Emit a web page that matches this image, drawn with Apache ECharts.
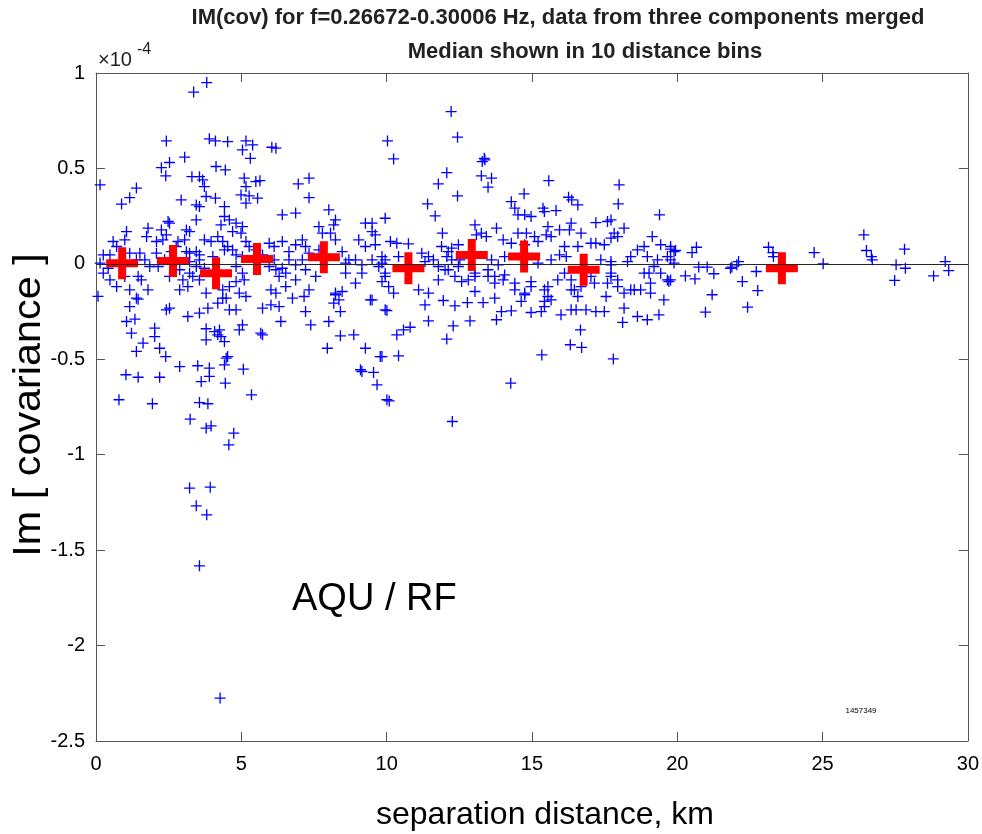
<!DOCTYPE html>
<html>
<head>
<meta charset="utf-8">
<title>IM(cov) vs separation distance</title>
<script src="https://cdn.jsdelivr.net/npm/echarts@6/dist/echarts.min.js"></script>
<style>
  html, body { margin: 0; padding: 0; background: #fff; }
  #chart { width: 982px; height: 834px; }
</style>
</head>
<body>
<div id="chart"></div>
<script>
// station pairs: [separation distance km, Im(cov) in 1e-4]
const pairPoints = [
  [3.81,0.95],[3.36,0.90],[2.42,0.644],[3.90,0.655],[4.11,0.644],[4.53,0.64],[5.16,0.644],[5.39,0.623],
  [5.04,0.597],[6.05,0.611],[6.19,0.606],[5.31,0.553],[3.05,0.559],[2.53,0.531],[2.25,0.504],[2.40,0.461],
  [4.13,0.51],[4.45,0.492],[3.30,0.457],[3.56,0.457],[3.67,0.44],[5.10,0.449],[5.16,0.405],[5.50,0.431],
  [5.64,0.436],[0.14,0.414],[1.39,0.397],[1.16,0.347],[0.88,0.313],[3.73,0.405],[3.79,0.353],[6.96,0.419],
  [7.33,0.449],[7.33,0.347],[2.93,0.335],[3.45,0.309],[3.56,0.30],[4.11,0.344],[4.42,0.30],[4.99,0.361],
  [5.27,0.356],[5.56,0.344],[5.16,0.318],[8.01,0.283],[4.42,0.248],[4.30,0.204],[4.59,0.23],[6.41,0.257],
  [6.87,0.266],[2.48,0.222],[2.53,0.213],[2.25,0.178],[3.45,0.23],[3.22,0.169],[3.11,0.178],[4.82,0.213],
  [5.04,0.195],[4.99,0.161],[4.70,0.169],[8.24,0.23],[8.18,0.204],[8.07,0.161],[9.27,0.213],[9.50,0.213],
  [9.50,0.169],[9.95,0.239],[1.05,0.169],[1.79,0.187],[1.74,0.143],[0.59,0.117],[0.99,0.126],[0.25,0.047],
  [0.48,0.047],[0.14,0.004],[2.08,0.117],[2.30,0.126],[2.42,0.152],[2.82,0.117],[3.05,0.126],[3.11,0.064],
  [3.22,0.056],[3.45,0.064],[3.73,0.126],[3.96,0.117],[4.19,0.143],[4.36,0.117],[4.53,0.091],[4.42,0.073],
  [4.70,0.073],[4.82,0.047],[5.16,0.117],[5.27,0.091],[5.50,0.073],[5.96,0.108],[6.13,0.091],[5.73,0.047],
  [6.41,0.117],[6.87,0.10],[7.10,0.126],[7.21,0.091],[7.33,0.056],[7.67,0.195],[7.79,0.161],[8.47,0.064],
  [8.70,0.021],[9.27,0.091],[9.61,0.10],[9.84,0.038],[1.51,0.056],[1.68,0.021],[1.85,-0.014],[1.45,-0.066],
  [1.56,-0.084],[0.25,-0.049],[0.48,-0.084],[0.71,-0.119],[0.07,-0.17],[1.16,-0.136],[1.39,-0.18],[1.79,-0.136],
  [1.16,-0.224],[2.53,-0.066],[2.99,-0.084],[3.22,-0.049],[3.16,-0.119],[2.88,-0.136],[3.56,-0.084],[3.79,-0.153],
  [4.36,-0.136],[4.59,-0.119],[4.82,-0.093],[5.10,-0.084],[4.93,-0.153],[4.48,-0.18],[6.19,-0.031],[6.30,-0.066],
  [6.41,-0.023],[6.02,-0.136],[6.19,-0.153],[6.53,-0.119],[6.87,-0.084],[7.33,-0.136],[7.56,-0.066],[8.24,-0.153],
  [8.36,-0.189],[8.59,-0.049],[8.93,-0.101],[9.15,-0.049],[9.50,-0.189],[9.84,-0.093],
  [0.42,-0.023],[0.99,-0.066],[1.39,0.021],[2.08,0.056],[2.14,-0.014],[2.36,0.021],[2.76,0.004],[3.22,0.012],
  [3.45,-0.014],[3.56,0.021],[3.73,-0.023],[3.33,-0.066],[2.88,-0.031],[4.82,-0.014],[5.04,-0.049],[5.96,-0.014],
  [6.13,0.021],[6.64,0.021],[6.87,-0.005],[7.10,0.021],[6.53,-0.049],[7.21,-0.031],[8.59,0.004],[8.93,0.021],
  [9.15,-0.005],[9.50,0.021],[9.73,-0.014],[9.95,0.021],[8.24,0.126],[9.04,0.126],[9.61,0.152],[0.71,0.091],
  [1.16,0.056],[2.59,0.064],[2.76,0.091],[3.56,0.047],[4.02,0.038],[5.04,0.038],[6.64,0.064],[7.67,0.073],
  [1.45,-0.185],[1.05,-0.302],[1.34,-0.29],[1.22,-0.363],[1.62,-0.415],[1.39,-0.459],[2.02,-0.337],[2.02,-0.381],
  [2.19,-0.442],[2.40,-0.486],[2.42,-0.241],[2.53,-0.232],[1.03,-0.581],[1.45,-0.594],[2.19,-0.594],[0.79,-0.712],
  [1.94,-0.733],[2.88,-0.538],[3.16,-0.276],[3.56,-0.258],[3.85,-0.232],[4.19,-0.206],[4.36,-0.18],[3.79,-0.34],
  [4.08,-0.355],[4.25,-0.346],[4.30,-0.381],[4.19,-0.372],[4.42,-0.407],[3.79,-0.398],[4.59,-0.241],[4.82,-0.241],
  [5.16,-0.171],[5.04,-0.32],[4.93,-0.346],[5.67,-0.363],[5.73,-0.372],[5.73,-0.232],[6.02,-0.215],[6.36,-0.302],
  [6.30,-0.224],[6.76,-0.18],[7.16,-0.171],[7.21,-0.25],[7.39,-0.32],[8.01,-0.302],[7.96,-0.442],[8.41,-0.377],
  [8.87,-0.372],[8.18,-0.206],[8.41,-0.25],[8.24,-0.162],[8.47,-0.145],[9.27,-0.442],[9.78,-0.486],[9.10,-0.555],
  [9.15,-0.564],[9.55,-0.569],[9.67,-0.634],[10.01,-0.712],[9.44,-0.189],[9.95,-0.241],[3.50,-0.534],[3.90,-0.546],
  [3.90,-0.59],[3.62,-0.617],[4.42,-0.529],[4.48,-0.494],[4.53,-0.486],[4.45,-0.625],[5.07,-0.552],[5.35,-0.686],
  [3.56,-0.727],[3.85,-0.733],[3.24,-0.814],[3.79,-0.861],[3.96,-0.849],[4.74,-0.887],[4.57,-0.948],[3.22,-1.175],
  [3.93,-1.170],[3.45,-1.268],[3.81,-1.315],[3.56,-1.582],[4.27,-2.275],
  [12.22,0.798],[12.44,0.664],[10.03,0.644],[10.24,0.55],[13.36,0.553],[13.29,0.536],[13.38,0.545],[12.07,0.478],
  [11.78,0.419],[13.26,0.461],[13.61,0.449],[13.49,0.402],[12.44,0.356],[11.41,0.314],[11.67,0.251],[15.58,0.436],
  [14.73,0.367],[14.29,0.326],[14.41,0.292],[14.52,0.257],[14.75,0.257],[14.97,0.248],[16.26,0.349],[16.37,0.335],
  [16.58,0.309],[15.38,0.292],[15.43,0.274],[15.83,0.279],[18.0,0.414],[17.97,0.314],[17.20,0.216],[17.60,0.222],
  [17.72,0.23],[17.83,0.161],[18.17,0.187],[17.72,0.135],[19.39,0.257],[16.35,0.213],[16.29,0.178],[16.69,0.161],
  [17.20,0.108],[17.03,0.108],[15.55,0.195],[15.49,0.152],[15.66,0.143],[15.95,0.178],[16.18,0.038],[14.52,0.161],
  [14.81,0.161],[15.09,0.143],[15.21,0.117],[14.75,0.10],[13.04,0.204],[13.26,0.161],[13.43,0.143],[13.09,0.152],
  [13.78,0.187],[14.01,0.126],[14.29,0.108],[11.92,0.161],[11.89,0.091],[12.12,0.064],[12.24,0.082],[12.47,0.10],
  [12.07,0.038],[12.24,0.021],[10.13,0.117],[10.35,0.108],[10.75,0.105],[11.44,0.038],[11.32,0.012],[18.86,0.091],
  [19.14,0.143],[19.43,0.10],[19.77,0.091],[19.89,0.064],[18.97,0.038],[19.32,0.021],[17.49,0.10],[17.95,0.143],
  [18.29,0.012],[17.72,0.012],[9.95,-0.049],[10.07,-0.119],[10.24,-0.153],[11.10,-0.136],[11.44,-0.153],[11.32,-0.215],
  [12.01,-0.031],[12.47,-0.014],[12.35,-0.066],[12.81,-0.084],[13.04,-0.049],[13.49,-0.066],[13.72,-0.101],[14.01,-0.084],
  [14.41,-0.136],[14.75,-0.153],[14.97,-0.119],[15.55,-0.119],[15.66,-0.189],[15.43,-0.224],[16.12,-0.049],[16.35,-0.084],
  [16.46,-0.136],[16.69,-0.119],[17.03,-0.066],[17.60,-0.101],[17.72,-0.049],[17.95,-0.084],[18.17,-0.153],[18.40,-0.136],
  [18.86,-0.049],[19.20,-0.014],[19.43,-0.049],[19.66,-0.084],[19.08,-0.153],[19.54,-0.189],
  [9.84,0.004],[10.41,0.038],[11.21,0.056],[11.61,0.021],[11.78,-0.014],[12.52,0.021],[13.61,0.021],[13.84,-0.005],
  [14.06,0.038],[15.21,0.004],[15.66,0.021],[15.95,0.047],[16.12,0.091],[16.58,0.091],[17.37,0.021],[17.72,-0.005],
  [18.40,0.038],[18.63,0.073],[19.66,0.038],
  [10.01,-0.245],[11.44,-0.299],[11.95,-0.192],[12.35,-0.22],[12.78,-0.203],[13.32,-0.203],[13.72,-0.18],[12.87,-0.299],
  [12.29,-0.325],[12.07,-0.394],[10.35,-0.372],[10.58,-0.346],[10.81,-0.332],[9.84,-0.486],[10.41,-0.482],[10.09,-0.718],
  [13.95,-0.25],[13.78,-0.293],[14.29,-0.246],[14.75,-0.162],[14.97,-0.255],[15.34,-0.477],[14.27,-0.625],[12.26,-0.826],
  [15.32,-0.25],[15.43,-0.197],[15.55,-0.171],[16.00,-0.267],[16.35,-0.241],[16.52,-0.241],[16.67,-0.346],[16.32,-0.424],
  [16.71,-0.438],[16.86,-0.241],[17.20,-0.25],[17.49,-0.25],[17.55,-0.171],[17.80,-0.498],[18.17,-0.232],[18.12,-0.307],
  [18.63,-0.276],[18.97,-0.293],[19.37,-0.267],[18.52,-0.136],[19.71,-0.093],
  [9.95,-0.066],[11.78,-0.084],[12.12,-0.031],[12.58,-0.093],[13.04,-0.066],[13.04,-0.145],[13.49,-0.031],[13.72,-0.066],
  [14.06,-0.058],[14.41,-0.101],[14.63,-0.197],[14.97,-0.093],[15.43,-0.136],[15.89,-0.084],[16.35,-0.136],[16.58,-0.171],
  [17.15,-0.101],[17.72,-0.066],[17.95,-0.119],[18.74,-0.136],[19.03,-0.049],[19.08,-0.101],
  [20.97,-0.253],[22.42,-0.227],[21.20,-0.162],[22.77,-0.14],[20.28,-0.063],[20.61,-0.079],[21.26,-0.052],[22.24,-0.093],
  [22.72,-0.04],[20.74,-0.017],[21.03,-0.017],[21.88,-0.017],[22.05,-0.005],[27.48,-0.087],[28.82,-0.063],[29.34,-0.035],
  [27.85,-0.023],[27.53,-0.005],[29.22,0.012],[25.02,0.0],[19.89,0.004],[26.42,0.152],[26.51,0.07],[26.68,0.038],
  [26.71,0.021],[27.82,0.077],[24.71,0.059],[23.14,0.087],[23.29,0.059],[23.31,0.038],[20.51,0.059],[20.66,0.087],
  [19.77,0.077],[19.94,0.07],[22.11,0.012],[21.83,-0.023],[19.77,0.021],[19.77,-0.084]
]

// median of each of the 10 distance bins
const medianDist = [0.90, 2.65, 4.13, 5.54, 7.84, 10.75, 12.93, 14.73, 16.78, 23.6]
const medianIm = [0.003, 0.015, -0.049, 0.025, 0.035, -0.023, 0.047, 0.038, -0.031, -0.023]

const xRange = [0, 30, 5]
const yRange = [-2.5, 1, 0.5]

const FONT = '"Liberation Sans", Arial, Helvetica, sans-serif'
const AXIS_COLOR = '#555'

// thin plus for samples, fat plus for medians
const thinPlus = 'path://M0,4.4H10V5.6H0Z M4.4,0H5.6V10H4.4Z'
const fatPlus = 'path://M0,12H32V20H0Z M12,0H20V32H12Z'

const chart = echarts.init(document.getElementById('chart'), null, { renderer: 'canvas' })

function axisBase(pos, showLabel) {
  return {
    type: 'value',
    position: pos,
    axisLine: { show: true, onZero: false, lineStyle: { color: AXIS_COLOR, width: 1 } },
    axisTick: { show: true, inside: true, length: 9, lineStyle: { color: AXIS_COLOR } },
    axisLabel: { show: showLabel, color: '#000', fontFamily: FONT, fontSize: 20 },
    splitLine: { show: false }
  }
}

const xBottom = Object.assign(axisBase('bottom', true), { min: xRange[0], max: xRange[1], interval: xRange[2] })
xBottom.axisLabel.margin = 13
const xTop = Object.assign(axisBase('top', false), { min: xRange[0], max: xRange[1], interval: xRange[2] })
const yLeft = Object.assign(axisBase('left', true), { min: yRange[0], max: yRange[1], interval: yRange[2] })
yLeft.axisLabel.margin = 11
const yRight = Object.assign(axisBase('right', false), { min: yRange[0], max: yRange[1], interval: yRange[2] })

chart.setOption({
  backgroundColor: '#fff',
  animation: false,
  grid: { left: 96, right: 10, top: 73, bottom: 93, containLabel: false },
  xAxis: [xBottom, xTop],
  yAxis: [yLeft, yRight],
  series: [
    {
      name: 'pairs',
      type: 'scatter',
      xAxisIndex: 0,
      yAxisIndex: 0,
      symbol: thinPlus,
      symbolSize: 11,
      itemStyle: { color: '#0000ff', opacity: 1 },
      data: pairPoints,
      markLine: {
        silent: true,
        symbol: ['none', 'none'],
        label: { show: false },
        lineStyle: { color: '#262626', width: 1, type: 'solid' },
        data: [{ yAxis: 0 }]
      },
      z: 2
    },
    {
      name: 'median',
      type: 'scatter',
      xAxisIndex: 0,
      yAxisIndex: 0,
      symbol: fatPlus,
      symbolSize: 32,
      itemStyle: { color: '#ff0000', opacity: 1 },
      data: medianDist.map((d, i) => [d, medianIm[i]]),
      z: 3
    }
  ],
  graphic: [
    {
      type: 'text', x: 558, y: 18,
      style: { text: 'IM(cov) for f=0.26672-0.30006 Hz, data from three components merged', font: 'bold 22px ' + FONT, fill: '#222', textAlign: 'center', textVerticalAlign: 'middle' }
    },
    {
      type: 'text', x: 585, y: 52,
      style: { text: 'Median shown in 10 distance bins', font: 'bold 22px ' + FONT, fill: '#222', textAlign: 'center', textVerticalAlign: 'middle' }
    },
    {
      type: 'text', x: 98, y: 70,
      style: { text: '×10', font: '20px ' + FONT, fill: '#222', textAlign: 'left', textVerticalAlign: 'bottom' }
    },
    {
      type: 'text', x: 137, y: 58,
      style: { text: '-4', font: '16px ' + FONT, fill: '#222', textAlign: 'left', textVerticalAlign: 'bottom' }
    },
    {
      // rotated label, slightly stretched along its length like the original
      type: 'text', x: 29, y: 405, rotation: Math.PI / 2, scaleX: 1.06,
      style: { text: 'Im [ covariance ]', font: '39px ' + FONT, fill: '#000', textAlign: 'center', textVerticalAlign: 'middle' }
    },
    {
      type: 'text', x: 545, y: 815,
      style: { text: 'separation distance, km', font: '32px ' + FONT, fill: '#000', textAlign: 'center', textVerticalAlign: 'middle' }
    },
    {
      type: 'text', x: 292, y: 600,
      style: { text: 'AQU / RF', font: '38px ' + FONT, fill: '#000', textAlign: 'left', textVerticalAlign: 'middle' }
    },
    {
      type: 'text', x: 861, y: 711,
      style: { text: '1457349', font: '8px ' + FONT, fill: '#000', textAlign: 'center', textVerticalAlign: 'middle' }
    }
  ]
})
</script>
</body>
</html>
